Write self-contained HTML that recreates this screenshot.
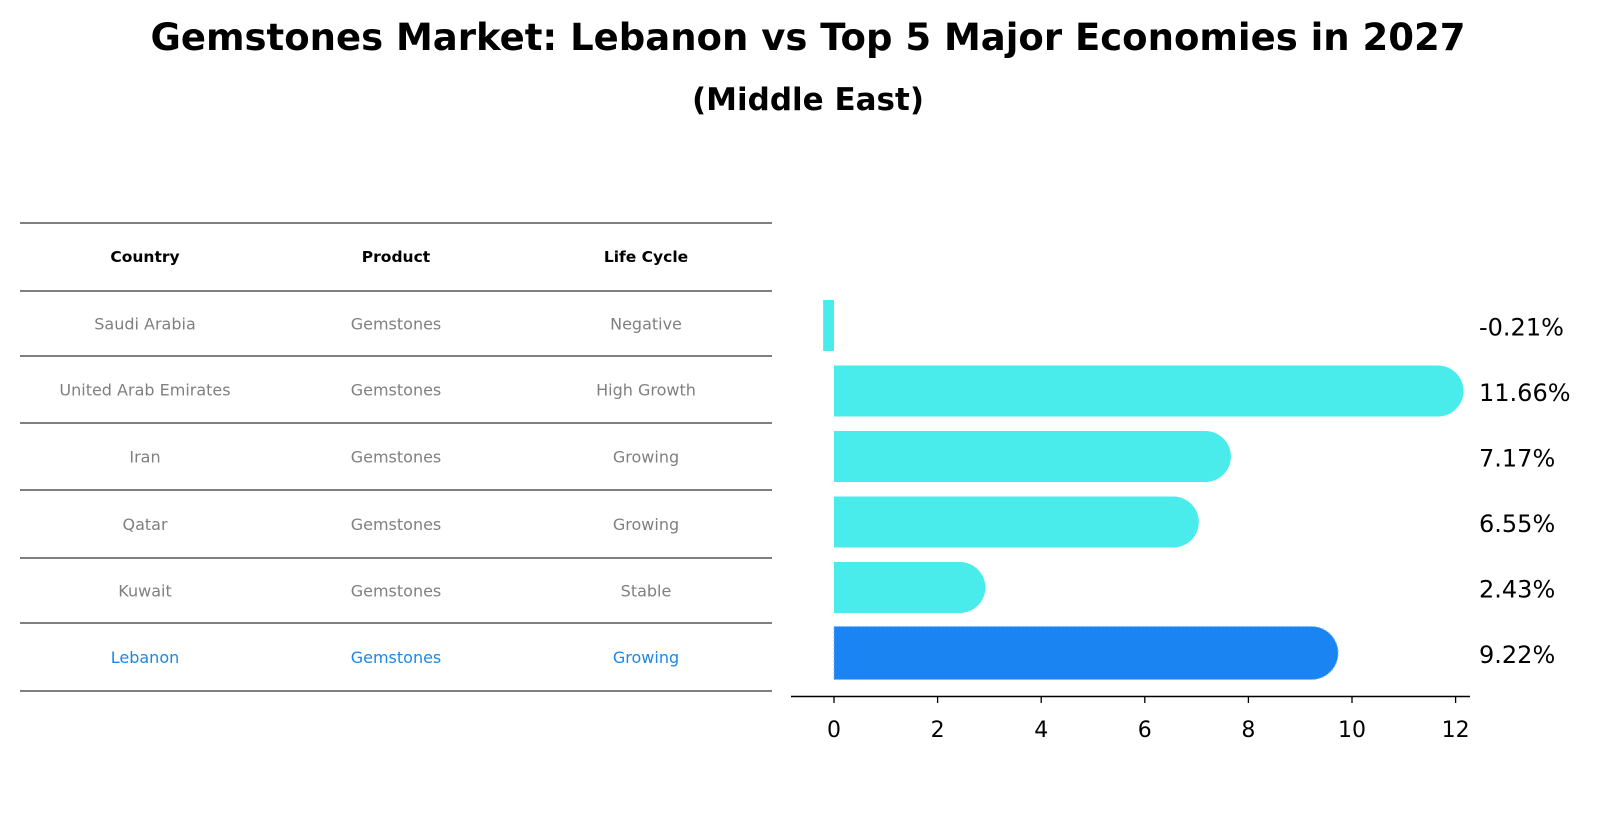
<!DOCTYPE html>
<html><head><meta charset="utf-8"><style>
body{margin:0;background:#fff;font-family:"DejaVu Sans","Liberation Sans",sans-serif}
</style></head><body>
<svg width="1604" height="823" xmlns="http://www.w3.org/2000/svg" font-family="DejaVu Sans, Liberation Sans, sans-serif">
<rect width="1604" height="823" fill="#fff"/>
<text x="808" y="50" text-anchor="middle" font-size="37" font-weight="bold">Gemstones Market: Lebanon vs Top 5 Major Economies in 2027</text>
<text x="808" y="110" text-anchor="middle" font-size="31" font-weight="bold">(Middle East)</text>
<g id="table"></g>
<g id="bars"></g>
<g id="axis"></g>
</svg>
<script>
const countries=["Saudi Arabia","United Arab Emirates","Iran","Qatar","Kuwait","Lebanon"];
const products=["Gemstones","Gemstones","Gemstones","Gemstones","Gemstones","Gemstones"];
const lifeCycles=["Negative","High Growth","Growing","Growing","Stable","Growing"];
const values=[-0.21,11.66,7.17,6.55,2.43,9.22];
const valueLabels=["-0.21%","11.66%","7.17%","6.55%","2.43%","9.22%"];
const ticks=[0,2,4,6,8,10,12];
const NS="http://www.w3.org/2000/svg";
function mk(t,a,p,txt){const e=document.createElementNS(NS,t);for(const k in a)e.setAttribute(k,a[k]);if(txt!==undefined)e.textContent=txt;p.appendChild(e);return e;}
const X=v=>834+v*51.8;
const rowY=i=>325.5+i*65.5;
const tbl=document.getElementById('table');
const lineYs=[223,291,356,423,490,558,623,691];
lineYs.forEach(y=>{const l=mk('line',{x1:20,x2:772,y1:y,y2:y,stroke:'#000','stroke-width':1},tbl);

});
const cx=[145,396,646];
["Country","Product","Life Cycle"].forEach((h,j)=>{const t=mk('text',{x:cx[j],y:262,'text-anchor':'middle','font-size':15.5,'font-weight':'bold'},tbl,h);

});
countries.forEach((c,i)=>{const y=(lineYs[i+1]+lineYs[i+2])/2+6;const col=i===5?'#1a88e6':'#808080';
[c,products[i],lifeCycles[i]].forEach((v,j)=>{const t=mk('text',{x:cx[j],y:y,'text-anchor':'middle','font-size':16,fill:col},tbl,v);

});});
const bars=document.getElementById('bars');
values.forEach((v,i)=>{const y=rowY(i);const col=i===5?'#1a84f2':'#4aeceb';const h=i===5?53:51;
const x0=Math.min(X(0),X(v)),w=Math.abs(X(v)-X(0));
const g=mk('g',{},bars);


if(v>0){mk('path',{d:`M${x0},${y-h/2} H${X(v)} A${h/2},${h/2} 0 0 1 ${X(v)},${y+h/2} H${x0} Z`,fill:col,stroke:i===5?'#7ab8f5':'none','stroke-dasharray':'2,2','stroke-width':1},g);}
else{mk('rect',{x:x0,y:y-h/2,width:Math.max(w,1),height:h,fill:col},g);}
const t=mk('text',{x:1479,y:y+10,'font-size':24,fill:'#000'},bars,valueLabels[i]);

});
const ax=document.getElementById('axis');
mk('line',{x1:791,x2:1470,y1:696.5,y2:696.5,stroke:'#000','stroke-width':1.5},ax);
ticks.forEach(t=>{mk('line',{x1:X(t),x2:X(t),y1:696,y2:703,stroke:'#000','stroke-width':1.3},ax);
const e=mk('text',{x:X(t),y:737,'text-anchor':'middle','font-size':22},ax,t);

});
</script>
</body></html>
